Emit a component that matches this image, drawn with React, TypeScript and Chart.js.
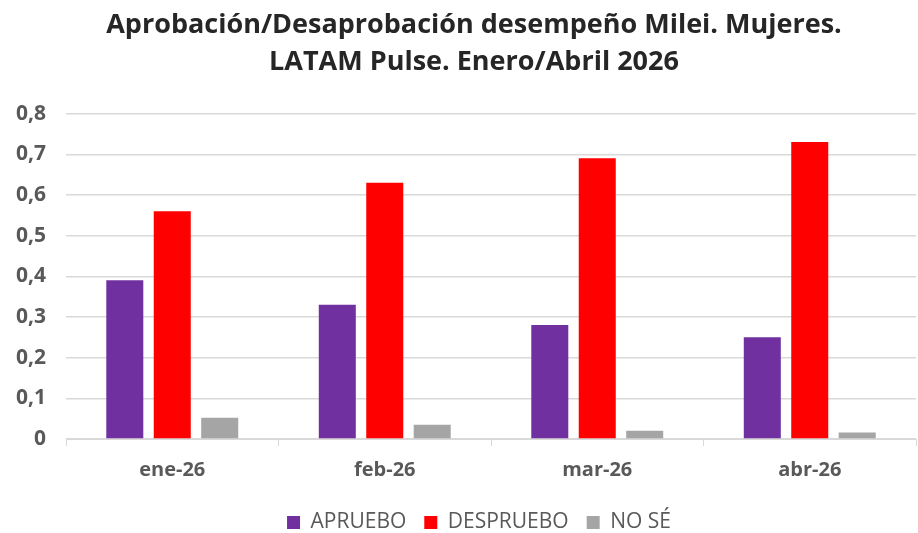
import React, { useEffect, useRef } from "react";
import { Chart, registerables } from "chart.js";

Chart.register(...registerables);

const categories = ["ene-26", "feb-26", "mar-26", "abr-26"];
const apruebo = [0.39, 0.33, 0.28, 0.25];
const desapruebo = [0.56, 0.63, 0.69, 0.73];
const noSe = [0.052, 0.035, 0.02, 0.016];
const seriesNames = ["APRUEBO", "DESPRUEBO", "NO SÉ"];
const titleLines = [
  "Aprobación/Desaprobación desempeño Milei. Mujeres.",
  "LATAM Pulse. Enero/Abril 2026",
];

const shiftBoxes = {
  id: "shiftBoxes",
  afterLayout(chart: any) {
    const t = chart.titleBlock;
    if (t) {
      t.left += 18;
      t.right += 18;
    }
    const l = chart.legend;
    if (l) {
      l.left += 23;
      l.right += 23;
    }
  },
};

export default function App() {
  const ref = useRef<HTMLCanvasElement>(null);
  useEffect(() => {
    document.body.style.margin = "0";
    if (!ref.current) return;
    const chart = new Chart(ref.current, {
      type: "bar",
      data: {
        labels: categories,
        datasets: [
          { label: seriesNames[0], data: apruebo, backgroundColor: "#7030A0" },
          { label: seriesNames[1], data: desapruebo, backgroundColor: "#FF0000" },
          { label: seriesNames[2], data: noSe, backgroundColor: "#A5A5A5" },
        ],
      },
      plugins: [shiftBoxes],
      options: {
        responsive: false,
        animation: false,
        layout: { padding: { left: -4, right: 2, top: 0, bottom: -10 } },
        datasets: { bar: { categoryPercentage: 0.67, barPercentage: 0.78 } },
        plugins: {
          title: {
            display: true,
            text: titleLines,
            color: "#262626",
            font: { family: "Open Sans", size: 27, weight: "bold", lineHeight: 1.4 },
            padding: { top: 6, bottom: 32 },
          },
          legend: {
            position: "bottom",
            labels: {
              color: "#595959",
              font: { family: "Open Sans", size: 21 },
              boxWidth: 13,
              boxHeight: 13,
              padding: 18,
            },
          },
          tooltip: { enabled: false },
        },
        scales: {
          x: {
            grid: {
              drawOnChartArea: false,
              drawTicks: true,
              tickLength: 7,
              color: "#d9d9d9",
              offset: true,
            },
            border: { color: "#d9d9d9" },
            ticks: {
              color: "#595959",
              font: { family: "Open Sans", size: 20, weight: "bold" },
              padding: 12,
            },
          },
          y: {
            min: 0,
            max: 0.8,
            border: { display: false },
            grid: { color: "#d9d9d9", lineWidth: 1.5, drawTicks: false },
            ticks: {
              stepSize: 0.1,
              color: "#595959",
              padding: 20,
              font: { family: "Open Sans", size: 21, weight: "bold" },
              callback: (v: any) =>
                Number(v) === 0 ? "0" : Number(v).toFixed(1).replace(".", ","),
            },
          },
        },
      },
    });
    return () => chart.destroy();
  }, []);
  return <canvas ref={ref} width={918} height={533} />;
}
